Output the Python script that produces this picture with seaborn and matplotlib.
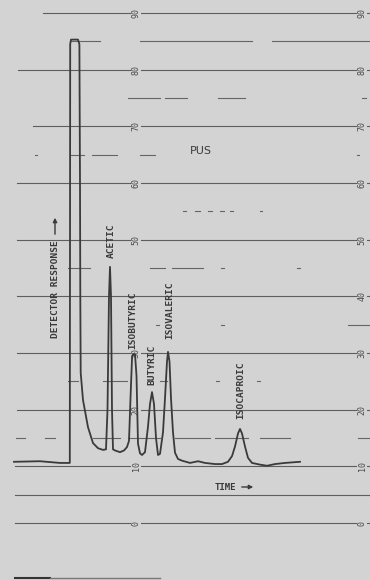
import matplotlib
matplotlib.use("Agg")
import matplotlib.pyplot as plt
import seaborn as sns
import pandas as pd

# ---- data ----
time = [14, 40, 60, 68, 69.8, 70.2, 71, 78, 79.4, 80.0, 80.3, 80.7, 83, 88, 93, 98,
        103, 106, 107.5, 109, 110, 111, 112, 113, 115, 120, 124, 127, 129, 130.5,
        132, 133, 135, 136.5, 138, 140, 142, 145, 148, 150, 152, 154, 156, 158,
        160, 163, 165, 167, 168, 169.5, 171, 173, 175, 178, 182, 190, 198, 205,
        215, 222, 228, 232, 235, 238, 240, 242, 245, 248, 252, 260, 267, 275,
        285, 300]
response = [10.8, 10.9, 10.6, 10.6, 10.6, 84.5, 85.3, 85.3, 84.5, 60, 40, 26.5, 21.7,
            16.9, 14.1, 13.2, 12.9, 13.0, 20, 40, 45.2, 40, 20, 13.0, 12.8, 12.5,
            12.8, 13.4, 14.5, 22, 29.0, 29.8, 29.8, 26, 14, 12.3, 12.0, 12.5, 17,
            21, 23.1, 21, 15, 12.0, 12.2, 16, 22, 28.5, 30.2, 28.5, 22, 16, 12.4,
            11.3, 11.0, 10.6, 10.9, 10.6, 10.4, 10.4, 10.8, 11.8, 13.5, 15.8, 16.6,
            15.8, 13.5, 11.5, 10.6, 10.3, 10.1, 10.4, 10.6, 10.8]

major_levels = [90, 80, 70, 60, 50, 40, 30, 20, 10, 5, 0]
tick_levels = [90, 80, 70, 60, 50, 40, 30, 20, 10, 0]
tick_labels = ["90", "80", "70", "60", "50", "40", "30", "20", "10", "0"]
left_hidden = ["40"]

peak_names = ["ACETIC", "ISOBUTYRIC", "BUTYRIC", "ISOVALERIC", "ISOCAPROIC"]
peak_label_x = [111, 133, 152, 170, 241]
peak_label_y = [241, 320, 365, 310, 390]   # pixel rows of label centres

# ---- figure ----
W, H = 370, 580
fig = plt.figure(figsize=(W / 100, H / 100), dpi=100)
bg = "#d3d3d3"
ink = "#4a4a4a"
fig.patch.set_facecolor(bg)
ax = fig.add_axes([0, 0, 1, 1])
ax.set_facecolor(bg)

px_per_unit = 56.67 / 10
y0_px = 523


def val(py):
    return (y0_px - py) / px_per_unit


# grid lines (solid rulings)
major_start = {90: 43, 80: 18, 70: 33, 60: 17, 50: 17, 40: 17, 30: 17, 20: 17,
               10: 15, 5: 15, 0: 15}
for lv in major_levels:
    ax.plot([major_start[lv], W], [lv, lv], color=ink, lw=0.8, alpha=0.85, zorder=1)

# broken intermediate rulings, as visible in the scan (pixel spans)
minor_segments = {
    85: [(70, 100), (140, 252), (272, 370)],
    75: [(128, 160), (165, 187), (218, 245), (362, 366)],
    65: [(35, 37), (70, 84), (92, 117), (140, 155), (357, 359)],
    55: [(183, 186), (195, 200), (208, 212), (220, 224), (230, 233), (260, 262)],
    45: [(68, 90), (150, 165), (172, 203), (221, 224), (297, 300)],
    35: [(156, 159), (221, 224), (348, 370)],
    25: [(68, 78), (103, 127), (160, 167), (216, 219), (257, 260)],
    15: [(16, 25), (45, 55), (93, 120), (128, 160), (175, 210), (215, 248), (260, 290),
         (358, 370)],
}
for lv, segs in minor_segments.items():
    for a, b in segs:
        ax.plot([a, b], [lv, lv], color=ink, lw=0.8, alpha=0.8, zorder=1)

# bottom edge line
ax.plot([15, 50], [val(578), val(578)], color="#333333", lw=1.5, zorder=1)
ax.plot([50, 160], [val(578), val(578)], color="#777777", lw=1.0, zorder=1)

# scale numbers (both columns)
for lv, lab in zip(tick_levels, tick_labels):
    for xc in (136, 362):
        if xc == 136 and lab in left_hidden:
            continue
        ax.text(xc, lv, lab, rotation=90, ha="center", va="center", fontsize=6,
                family="DejaVu Sans Mono", color=ink,
                bbox=dict(facecolor=bg, edgecolor="none", pad=0.3), zorder=2)

# chromatogram trace
df = pd.DataFrame({"time": time, "response": response})
sns.lineplot(data=df, x="time", y="response", ax=ax, color="#3a3a3a", lw=1.3,
             sort=False, estimator=None, zorder=3)
ax.axis("off")
ax.set_xlim(0, W)
ax.set_ylim(val(H), val(0))

# peak labels
for name, xx, yy in zip(peak_names, peak_label_x, peak_label_y):
    ax.text(xx, val(yy), name, rotation=90, ha="center", va="center", fontsize=6.8,
            family="DejaVu Sans Mono", fontweight="bold", color="#3a3a3a", zorder=4)

# axis annotations
ax.text(55, val(289), "DETECTOR RESPONSE", rotation=90, ha="center", va="center",
        fontsize=6.8, family="DejaVu Sans Mono", fontweight="bold", color="#3a3a3a")
ax.annotate("", xy=(55, val(215)), xytext=(55, val(237)),
            arrowprops=dict(arrowstyle="-|>", color="#3a3a3a", lw=1.0, mutation_scale=6))
ax.text(225, val(487), "TIME", ha="center", va="center", fontsize=6.5,
        family="DejaVu Sans Mono", fontweight="bold", color="#3a3a3a")
ax.annotate("", xy=(256, val(487)), xytext=(239, val(487)),
            arrowprops=dict(arrowstyle="-|>", color="#3a3a3a", lw=1.0, mutation_scale=6))
ax.text(201, val(151), "PUS", ha="center", va="center", fontsize=8,
        family="DejaVu Sans", color="#3a3a3a")

fig.savefig("out.png", dpi=100, facecolor=bg)
